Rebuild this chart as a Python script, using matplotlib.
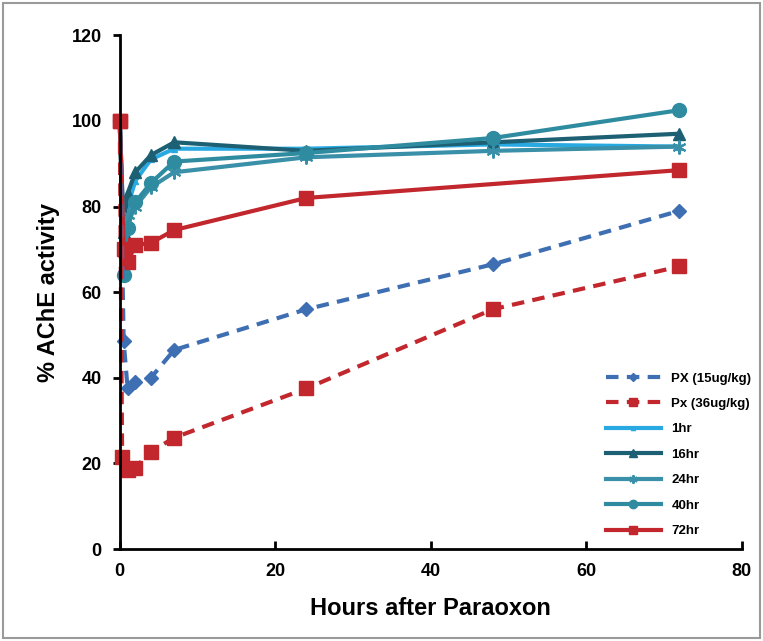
import matplotlib
matplotlib.use('Agg')
import matplotlib.pyplot as plt
from matplotlib.patches import Rectangle

plt.rcParams['font.family'] = ['Liberation Sans', 'DejaVu Sans']

# hours after paraoxon and % AChE activity
px15_x = [0, 0.5, 1, 2, 4, 7, 24, 48, 72]
px15_y = [100, 48.5, 37.5, 39, 40, 46.5, 56, 66.5, 79]
px36_x = [0, 0.3, 1, 2, 4, 7, 24, 48, 72]
px36_y = [100, 21.5, 18.5, 19, 22.7, 26, 37.5, 56, 66]
h1_x = [0, 0.5, 1, 2, 4, 7, 24, 48, 72]
h1_y = [100, 72, 80, 86, 91, 93.5, 93.5, 94.5, 94]
h16_x = [0, 0.5, 1, 2, 4, 7, 24, 48, 72]
h16_y = [100, 74, 83, 88, 92, 95, 93, 95, 97]
h24_x = [0, 0.5, 1, 2, 4, 7, 24, 48, 72]
h24_y = [100, 70, 78, 80, 84.5, 88, 91.5, 93, 94]
h40_x = [0, 0.5, 1, 2, 4, 7, 24, 48, 72]
h40_y = [100, 64, 75, 81, 85.5, 90.5, 92.5, 96, 102.5]
h72_x = [0, 0.5, 1, 2, 4, 7, 24, 72]
h72_y = [100, 70, 67, 71, 71.5, 74.5, 82, 88.5]

fig = plt.figure(figsize=(7.63, 6.41), dpi=100)
fig.patches.append(Rectangle((0.004, 0.004), 0.992, 0.992, transform=fig.transFigure,
                             fill=False, edgecolor='#9a9a9a', linewidth=1.5))
ax = fig.add_axes([0.157, 0.1435, 0.815, 0.8015])

kw = dict(lw=3, clip_on=False)
ax.plot(h1_x, h1_y, color='#29a9e1', marker='^', ms=5, label='1hr', **kw)
ax.plot(h16_x, h16_y, color='#1d5f73', marker='^', ms=9, label='16hr', **kw)
ax.plot(h24_x, h24_y, color='#3a90a8', marker=(6, 2, 0), ms=10, mew=1.5, label='24hr', **kw)
ax.plot(h40_x, h40_y, color='#2f8ca0', marker='o', ms=10, label='40hr', **kw)
ax.plot(h72_x, h72_y, color='#c1272d', marker='s', ms=10, label='72hr', **kw)
ax.plot(px15_x, px15_y, color='#3f6fb3', ls=(0, (3, 2)), marker='D', ms=7,
        label='PX (15ug/kg)', **kw)
ax.plot(px36_x, px36_y, color='#c1272d', ls=(0, (3, 2)), marker='s', ms=10,
        label='Px (36ug/kg)', **kw)

ax.set_xlim(0, 80)
ax.set_ylim(0, 120)
ax.set_xticks([0, 20, 40, 60, 80])
ax.set_yticks([0, 20, 40, 60, 80, 100, 120])
ax.spines['top'].set_visible(False)
ax.spines['right'].set_visible(False)
ax.spines['left'].set_linewidth(2)
ax.spines['bottom'].set_linewidth(2)
ax.tick_params(axis='x', direction='in', length=6, width=2, labelsize=13, pad=10)
ax.tick_params(axis='y', direction='out', length=5, width=2, labelsize=13, pad=8)
for lab in ax.get_xticklabels() + ax.get_yticklabels():
    lab.set_fontweight('bold')
ax.set_xlabel('Hours after Paraoxon', fontsize=17, fontweight='bold', labelpad=12)
ax.set_ylabel('% AChE activity', fontsize=17, fontweight='bold', labelpad=8)

handles, labels = ax.get_legend_handles_labels()
order = [5, 6, 0, 1, 2, 3, 4]
leg = ax.legend([handles[i] for i in order], [labels[i] for i in order],
                loc='lower left', bbox_to_anchor=(0.762, 0.0), frameon=False,
                fontsize=9.5, handlelength=4.2, labelspacing=1.0, markerscale=0.6)
for t in leg.get_texts():
    t.set_fontweight('bold')

plt.savefig('out.png', dpi=100)
